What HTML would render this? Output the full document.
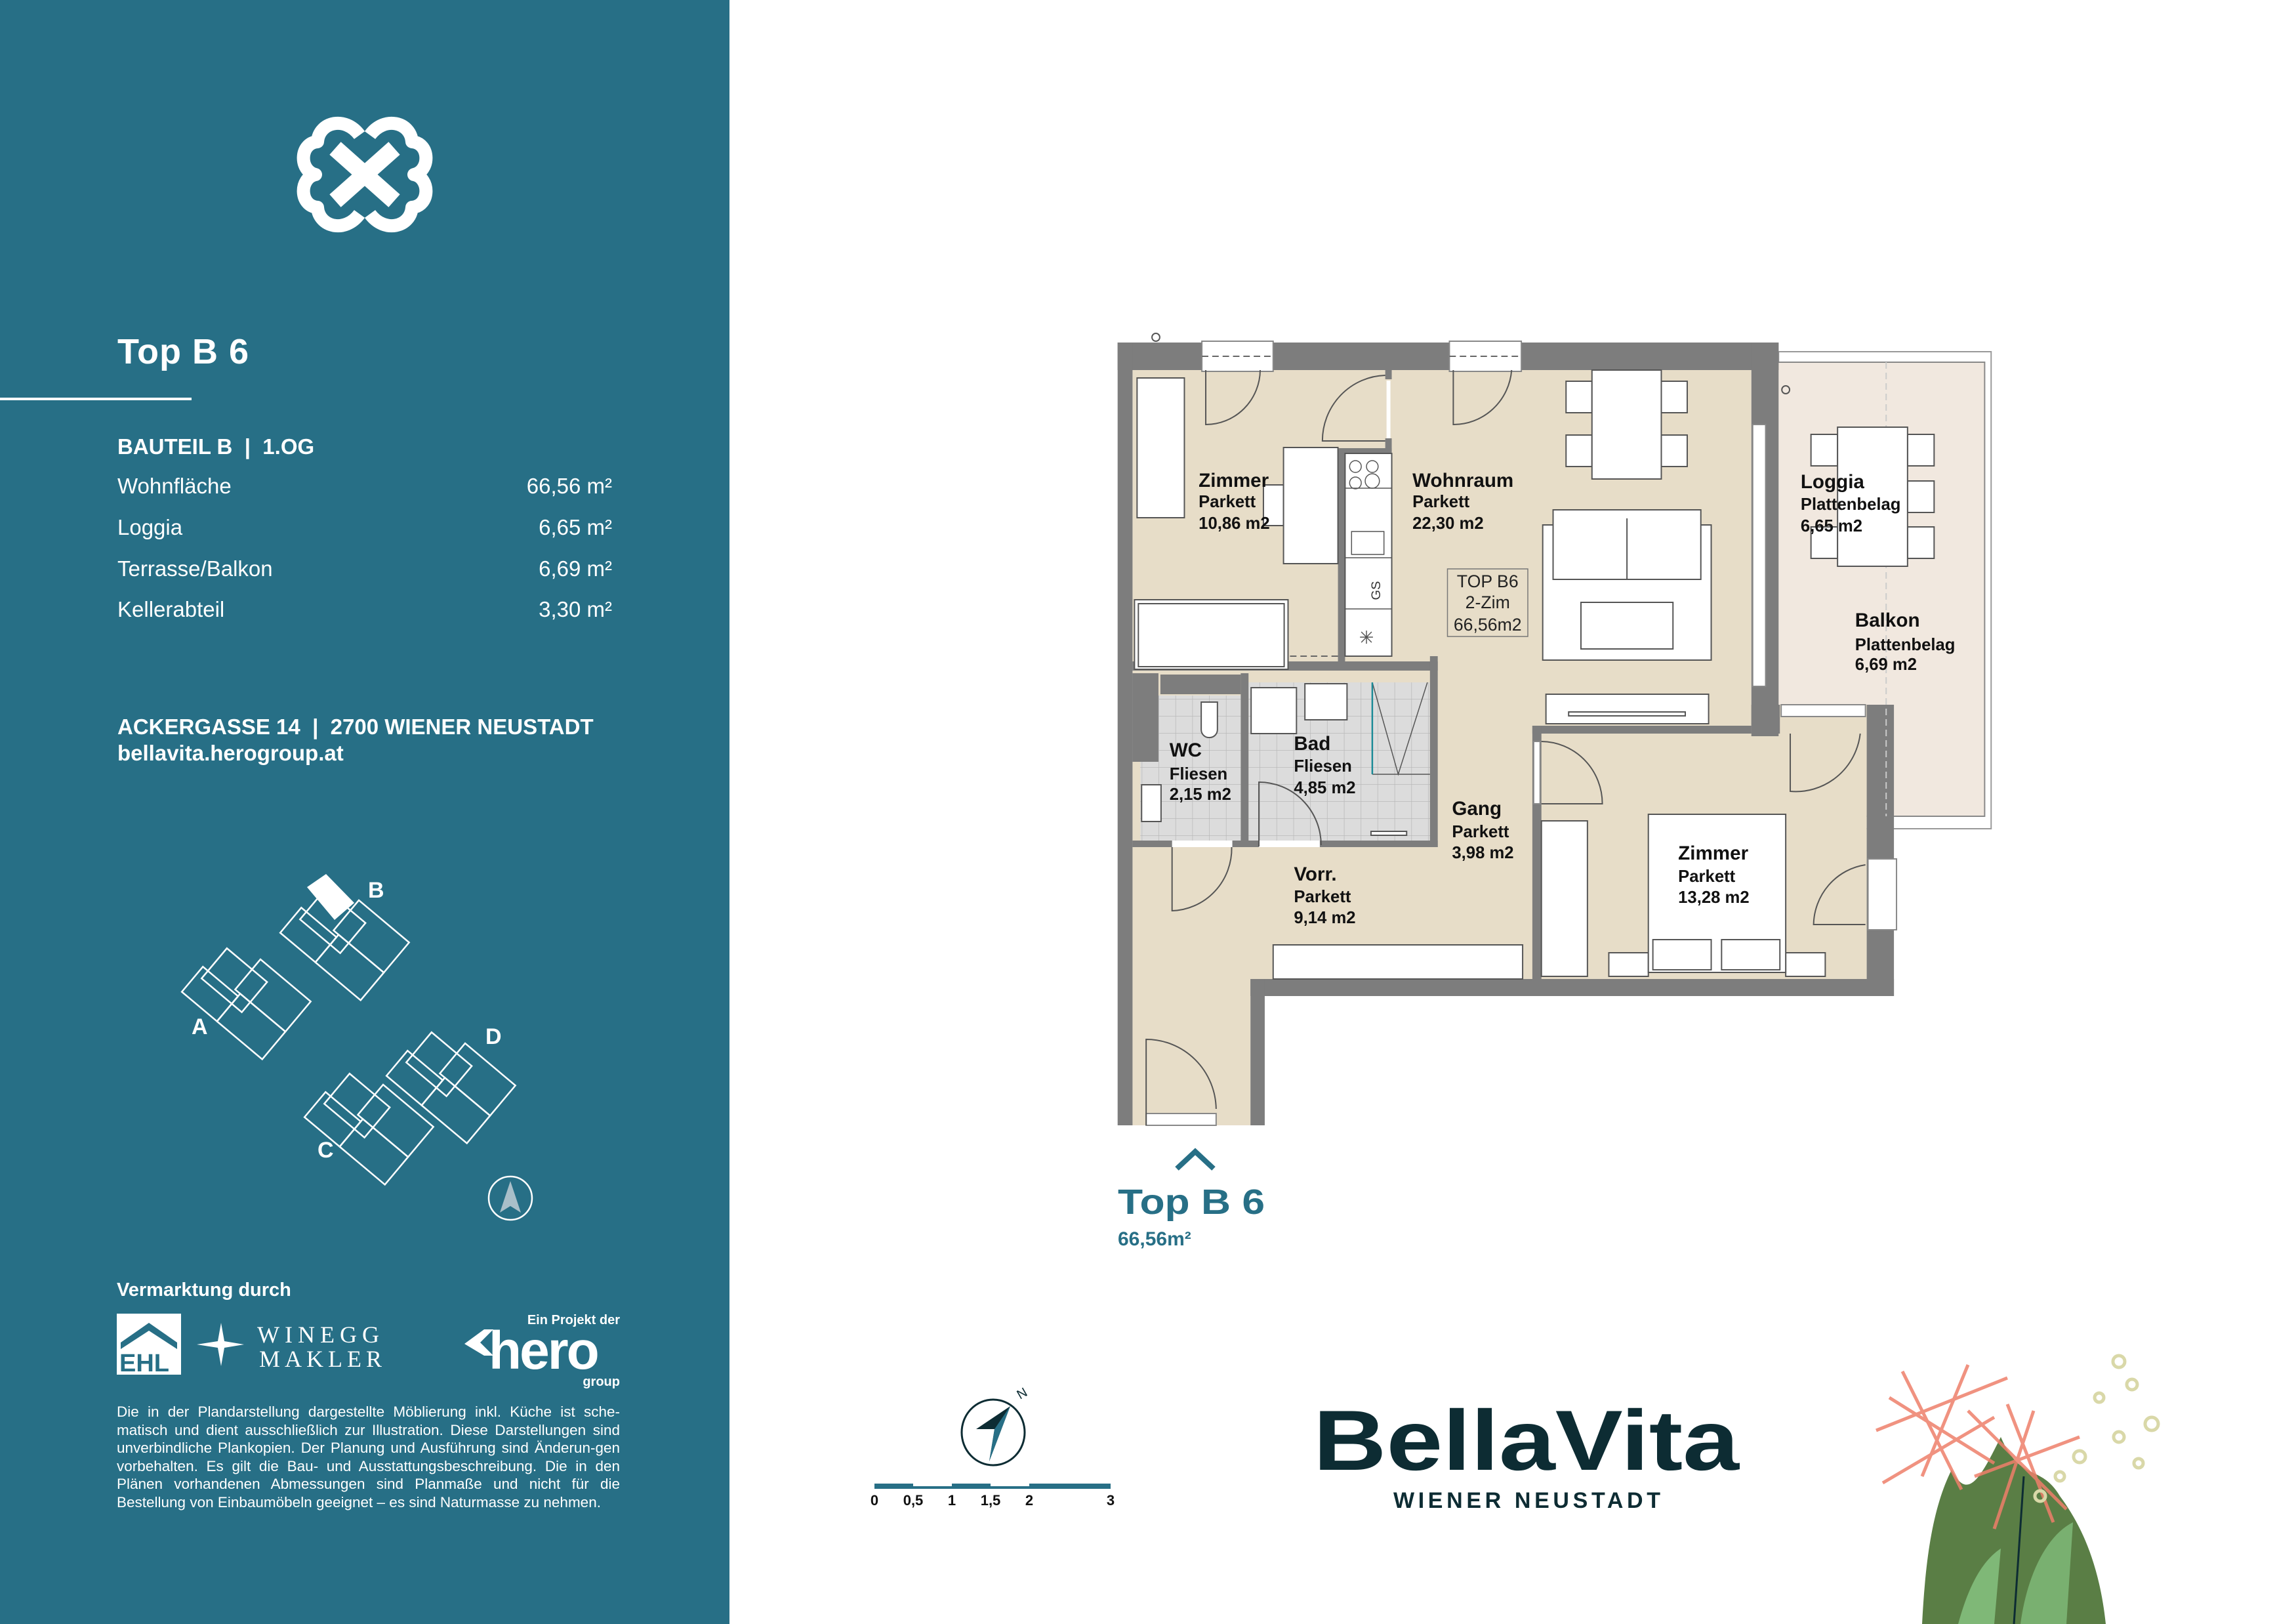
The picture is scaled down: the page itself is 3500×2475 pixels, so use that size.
<!DOCTYPE html>
<html><head><meta charset="utf-8"><style>
html,body{margin:0;padding:0}
body{width:3500px;height:2475px;position:relative;background:#fff;overflow:hidden;font-family:"Liberation Sans",sans-serif}
.a{position:absolute;white-space:nowrap}
.w{color:#fff}
</style></head><body>
<div class="a" style="left:0;top:0;width:1112px;height:2475px;background:#276f86"></div>

<svg class="a" style="left:0;top:0" width="3500" height="2475" viewBox="0 0 3500 2475">
<defs>
<pattern id="tile" x="0" y="0" width="26" height="26" patternUnits="userSpaceOnUse"><rect width="26" height="26" fill="#dcdcdc"/><path d="M26 0V26H0" fill="none" stroke="#b9b9b9" stroke-width="1.5"/></pattern>
</defs>
<!-- logo clover -->
<g transform="translate(556,266)" fill="none" stroke="#fff" stroke-width="20" stroke-linejoin="round">
<path d="M-8,-60 C-30,-90 -70,-80 -72,-50 C-100,-48 -100,-5 -75,0 C-100,5 -100,48 -72,50 C-70,80 -30,90 -8,60 M8,-60 C30,-90 70,-80 72,-50 C100,-48 100,-5 75,0 C100,5 100,48 72,50 C70,80 30,90 8,60"/>
<path d="M-45,-40 L45,40 M45,-40 L-45,40" stroke-width="26"/>
</g>
<line x1="0" y1="608" x2="292" y2="608" stroke="#fff" stroke-width="4"/>
<!-- site map -->
<g fill="none" stroke="#fff" stroke-width="2.5">
<g transform="translate(377,1517) rotate(40)"><rect x="-70" y="-35" width="80" height="60"/><rect x="-20" y="-55" width="100" height="60"/><rect x="-10" y="5" width="90" height="55"/><rect x="-80" y="10" width="70" height="50"/></g>
<g transform="translate(527,1427) rotate(40)"><rect x="-70" y="-35" width="80" height="60"/><rect x="-20" y="-55" width="100" height="60"/><rect x="-10" y="5" width="90" height="55"/><rect x="-80" y="10" width="70" height="50"/></g>
<g transform="translate(564,1708) rotate(40)"><rect x="-70" y="-35" width="80" height="60"/><rect x="-20" y="-55" width="100" height="60"/><rect x="-10" y="5" width="90" height="55"/><rect x="-80" y="10" width="70" height="50"/></g>
<g transform="translate(689,1645) rotate(40)"><rect x="-70" y="-35" width="80" height="60"/><rect x="-20" y="-55" width="100" height="60"/><rect x="-10" y="5" width="90" height="55"/><rect x="-80" y="10" width="70" height="50"/></g>
<circle cx="778" cy="1826" r="33"/>
</g>
<polygon points="468,1352 497,1332 540,1376 510,1402" fill="#fff"/>
<polygon points="778,1800 762,1848 778,1838 794,1848" fill="#a9bfc9"/>
<g fill="#fff" font-family="Liberation Sans" font-weight="bold" font-size="34"><text x="561" y="1368">B</text><text x="292" y="1576">A</text><text x="484" y="1764">C</text><text x="740" y="1591">D</text></g>
<!-- EHL -->
<rect x="178" y="2002" width="98" height="93" fill="#fff"/>
<polygon points="184,2046 227,2016 270,2046 270,2056 227,2028 184,2056" fill="#276f86"/>
<text x="182" y="2090" font-size="38" font-weight="bold" fill="#276f86" font-family="Liberation Sans">EHL</text>
<polygon points="337,2016 342,2044 372,2049 342,2054 337,2082 332,2054 300,2049 332,2044" fill="#fff"/>
<text x="392" y="2046" font-family="Liberation Serif" font-size="36" fill="#fff" letter-spacing="8">WINEGG</text>
<text x="395" y="2083" font-family="Liberation Serif" font-size="36" fill="#fff" letter-spacing="7">MAKLER</text>
<text x="945" y="2018" text-anchor="end" font-size="20" font-weight="bold" fill="#fff">Ein Projekt der</text>
<polygon points="708,2048 738,2026 752,2026 732,2046 752,2066 738,2066" fill="#fff"/>
<text x="745" y="2086" font-size="82" font-weight="bold" fill="#fff" letter-spacing="-3">hero</text>
<text x="945" y="2112" text-anchor="end" font-size="20" font-weight="bold" fill="#fff">group</text>

<!-- ===== PLAN ===== -->
<g transform="translate(1680,0) scale(0.9878,1) translate(-1680,0)">
<!-- loggia -->
<rect x="2724" y="536" width="328" height="727" fill="none" stroke="#999" stroke-width="2"/>
<rect x="2706" y="552" width="336" height="692" fill="#f1e8df" stroke="#888" stroke-width="2"/>
<!-- interior -->
<polygon points="1727,564 2682,564 2682,1074 2860,1074 2860,1492 1909,1492 1909,1715 1727,1715" fill="#e7ddc8"/>
<!-- tiles -->
<rect x="1739" y="1060" width="155" height="221" fill="url(#tile)"/>
<rect x="1906" y="1040" width="280" height="241" fill="url(#tile)"/>
<!-- walls -->
<g fill="#7d7d7d">
<rect x="1704" y="522" width="1020" height="42"/>
<rect x="1704" y="522" width="23" height="1193"/>
<rect x="2682" y="522" width="42" height="600"/>
<rect x="2682" y="1074" width="44" height="44"/>
<rect x="2344" y="1106" width="338" height="12"/>
<rect x="2860" y="1074" width="42" height="444"/>
<rect x="1909" y="1492" width="993" height="26"/>
<rect x="1909" y="1492" width="22" height="223"/>
<rect x="2344" y="1106" width="14" height="386"/>
<rect x="2044" y="683" width="11" height="339"/>
<rect x="2044" y="683" width="83" height="8"/>
<rect x="2117" y="564" width="10" height="14"/>
<rect x="2117" y="668" width="10" height="20"/>
<rect x="1727" y="1008" width="471" height="14"/>
<rect x="2186" y="1000" width="12" height="291"/>
<rect x="1727" y="1281" width="471" height="10"/>
<rect x="1894" y="1026" width="12" height="255"/>
<rect x="1727" y="1026" width="40" height="135"/>
<rect x="1770" y="1028" width="124" height="30"/>
</g>
<!-- openings -->
<g fill="#fff" stroke="#888" stroke-width="2">
<rect x="1834" y="520" width="110" height="46"/>
<rect x="2216" y="520" width="111" height="46"/>
<rect x="2684" y="647" width="20" height="399"/>
<rect x="2728" y="1074" width="130" height="18"/>
<rect x="2862" y="1309" width="44" height="108"/>
<rect x="2346" y="1130" width="10" height="95"/>
<rect x="1788" y="1281" width="93" height="10" stroke="none"/>
<rect x="1922" y="1281" width="94" height="10" stroke="none"/>
<rect x="1748" y="1697" width="108" height="18"/>
<rect x="2119" y="580" width="6" height="88" stroke="none"/>
</g>
<g stroke="#666" stroke-width="2" stroke-dasharray="10,6" fill="none">
<line x1="1834" y1="543" x2="1944" y2="543"/><line x1="2216" y1="543" x2="2327" y2="543"/>
<line x1="1730" y1="1000" x2="2044" y2="1000"/>
<line x1="2890" y1="552" x2="2890" y2="1244" stroke="#ccc"/>
</g>
<!-- doors -->
<g fill="none" stroke="#555" stroke-width="2">
<path d="M1840,564 V647 A84,84 0 0 0 1924,564"/>
<path d="M2117,672 H2020 A100,100 0 0 1 2117,572" />
<path d="M2222,564 V647 A90,90 0 0 0 2312,564"/>
<path d="M1788,1291 V1388 A95,95 0 0 0 1880,1291"/>
<path d="M1922,1290 V1192 A96,96 0 0 1 2018,1288"/>
<path d="M2358,1225 H2452 A95,95 0 0 0 2358,1130"/>
<path d="M2742,1118 V1206 A100,100 0 0 0 2850,1118"/>
<path d="M2858,1409 H2778 A94,94 0 0 1 2858,1318"/>
<path d="M1748,1715 V1584 A108,108 0 0 1 1856,1690"/>
</g>
<!-- furniture -->
<g fill="#fff" stroke="#555" stroke-width="2">
<rect x="1734" y="576" width="73" height="213"/>
<rect x="1929" y="739" width="31" height="62"/>
<rect x="1960" y="682" width="84" height="177"/>
<rect x="1730" y="914" width="237" height="106"/>
<rect x="1736" y="920" width="225" height="96" fill="none"/>
<rect x="2055" y="691" width="72" height="309"/>
<rect x="2396" y="581" width="40" height="48"/><rect x="2396" y="663" width="40" height="48"/>
<rect x="2543" y="581" width="40" height="48"/><rect x="2543" y="663" width="40" height="48"/>
<rect x="2436" y="564" width="107" height="166"/>
<rect x="2360" y="800" width="260" height="206"/>
<rect x="2376" y="777" width="228" height="106"/>
<line x1="2490" y1="790" x2="2490" y2="883"/>
<rect x="2419" y="918" width="142" height="71"/>
<rect x="2365" y="1058" width="251" height="45"/>
<rect x="2400" y="1085" width="180" height="6"/>
<rect x="2774" y="662" width="41" height="48"/><rect x="2774" y="803" width="41" height="48"/>
<rect x="2923" y="662" width="41" height="48"/><rect x="2923" y="733" width="41" height="48"/><rect x="2923" y="803" width="41" height="48"/>
<rect x="2815" y="651" width="108" height="212"/>
<rect x="2358" y="1251" width="71" height="237"/>
<rect x="2462" y="1452" width="61" height="36"/><rect x="2735" y="1452" width="61" height="36"/>
<rect x="2523" y="1241" width="212" height="241"/>
<rect x="2530" y="1432" width="90" height="46"/><rect x="2636" y="1432" width="90" height="46"/>
<rect x="1910" y="1048" width="70" height="70"/>
<rect x="1993" y="1042" width="65" height="55"/>
<path d="M1833,1070 H1858 V1112 A12,12 0 0 1 1846,1124 A12,12 0 0 1 1833,1112 Z"/>
<rect x="1741" y="1196" width="30" height="56"/>
<rect x="1944" y="1440" width="385" height="52"/>
<rect x="2095" y="1267" width="55" height="6"/>
</g>
<g fill="none" stroke="#555" stroke-width="1.5">
<line x1="2055" y1="744" x2="2127" y2="744"/><line x1="2055" y1="850" x2="2127" y2="850"/><line x1="2055" y1="928" x2="2127" y2="928"/>
<circle cx="2071" cy="711" r="9"/><circle cx="2097" cy="711" r="9"/><circle cx="2071" cy="736" r="9"/><circle cx="2097" cy="733" r="11"/>
<rect x="2065" y="810" width="50" height="35"/>
<path d="M2080,979 l16,-16 M2080,963 l16,16 M2088,961 v20 M2078,971 h20"/>
<path d="M2097,1040 L2137,1180 L2182,1040 M2097,1180 H2186"/>
<rect x="2213" y="867" width="124" height="103" stroke="#777"/>
</g>
<line x1="2097" y1="1040" x2="2097" y2="1180" stroke="#1b8a96" stroke-width="2.5"/>
<text x="2097" y="912" font-size="20" fill="#333" transform="rotate(-90 2097 900)" text-anchor="middle">GS</text>
<!-- plan labels -->
<g font-family="Liberation Sans" fill="#111" font-weight="bold">
<g font-size="30"><text x="1829" y="742">Zimmer</text><text x="2159" y="742">Wohnraum</text><text x="2758" y="744">Loggia</text><text x="2842" y="955">Balkon</text><text x="1784" y="1153">WC</text><text x="1976" y="1143">Bad</text><text x="2220" y="1242">Gang</text><text x="1976" y="1342">Vorr.</text><text x="2569" y="1310">Zimmer</text></g>
<g font-size="26"><text x="1829" y="773">Parkett</text><text x="1829" y="806">10,86 m2</text>
<text x="2159" y="773">Parkett</text><text x="2159" y="806">22,30 m2</text>
<text x="2758" y="777">Plattenbelag</text><text x="2758" y="810">6,65 m2</text>
<text x="2842" y="991">Plattenbelag</text><text x="2842" y="1021">6,69 m2</text>
<text x="1784" y="1188">Fliesen</text><text x="1784" y="1219">2,15 m2</text>
<text x="1976" y="1176">Fliesen</text><text x="1976" y="1209">4,85 m2</text>
<text x="2220" y="1276">Parkett</text><text x="2220" y="1308">3,98 m2</text>
<text x="1976" y="1375">Parkett</text><text x="1976" y="1407">9,14 m2</text>
<text x="2569" y="1344">Parkett</text><text x="2569" y="1376">13,28 m2</text></g>
</g>
<g font-size="27" fill="#222" text-anchor="middle"><text x="2275" y="895">TOP B6</text><text x="2275" y="927">2-Zim</text><text x="2275" y="961">66,56m2</text></g>
<circle cx="1763" cy="514" r="6" fill="none" stroke="#555" stroke-width="2"/>
<circle cx="2735" cy="594" r="6" fill="none" stroke="#555" stroke-width="2"/>
</g>

<!-- top b6 marker -->
<polyline points="1794,1781 1822,1755 1850,1781" fill="none" stroke="#276f86" stroke-width="8"/>
<text x="1704" y="1850" font-size="54" font-weight="bold" fill="#276f86" textLength="224" lengthAdjust="spacingAndGlyphs">Top B 6</text>
<text x="1704" y="1898" font-size="30" font-weight="bold" fill="#276f86">66,56m²</text>

<!-- compass + scale -->
<ellipse cx="1514" cy="2183" rx="48" ry="50" fill="none" stroke="#0d2c33" stroke-width="3"/>
<polygon points="1540,2143 1488,2178 1516,2178 1508,2227" fill="#0d2c33"/>
<polygon points="1540,2143 1516,2178 1508,2227" fill="#276f86"/>
<text x="1555" y="2133" font-size="20" fill="#0d2c33" transform="rotate(-30 1555 2133)">N</text>
<g fill="#276f86"><rect x="1333" y="2261" width="59" height="8"/><rect x="1392" y="2265" width="59" height="4"/><rect x="1451" y="2261" width="59" height="8"/><rect x="1510" y="2265" width="59" height="4"/><rect x="1569" y="2261" width="124" height="8"/></g>
<g font-size="22" font-weight="bold" fill="#111" text-anchor="middle"><text x="1333" y="2294">0</text><text x="1392" y="2294">0,5</text><text x="1451" y="2294">1</text><text x="1510" y="2294">1,5</text><text x="1569" y="2294">2</text><text x="1693" y="2294">3</text></g>

<!-- BellaVita -->
<text x="2002" y="2240" font-size="130" font-weight="bold" fill="#0d2c33" textLength="649" lengthAdjust="spacingAndGlyphs">BellaVita</text>
<text x="2124" y="2298" font-size="34" font-weight="bold" fill="#0d2c33" textLength="407" lengthAdjust="spacing">WIENER NEUSTADT</text>

<!-- plant -->
<g>
<path d="M2930,2475 C2935,2380 2945,2300 2975,2240 C3000,2290 3020,2250 3050,2190 C3080,2260 3110,2230 3140,2280 C3170,2320 3200,2380 3210,2475 Z" fill="#5a7e45"/>
<path d="M2950,2475 C2960,2420 2940,2360 2960,2330 L3000,2475Z" fill="#5a7e45"/>
<path d="M3080,2475 C3090,2400 3120,2340 3160,2320 L3150,2475Z" fill="#79b070"/>
<path d="M2985,2475 C3000,2420 3020,2380 3050,2360 L3040,2475Z" fill="#7fb877"/>
<line x1="3070" y1="2475" x2="3085" y2="2250" stroke="#0d2c33" stroke-width="3"/>
<g stroke="#ee7f6a" stroke-width="5" opacity="0.85">
<line x1="2860" y1="2180" x2="3060" y2="2100"/><line x1="2880" y1="2130" x2="3040" y2="2230"/><line x1="2900" y1="2090" x2="2990" y2="2270"/><line x1="3000" y1="2080" x2="2930" y2="2250"/><line x1="2870" y1="2260" x2="3040" y2="2160"/>
<line x1="3000" y1="2150" x2="3150" y2="2300"/><line x1="3100" y1="2150" x2="3040" y2="2330"/><line x1="3010" y1="2250" x2="3170" y2="2190"/><line x1="3060" y1="2140" x2="3130" y2="2320"/>
</g>
<g fill="none" stroke="#d9d8a8" stroke-width="5"><circle cx="3230" cy="2075" r="9"/><circle cx="3250" cy="2110" r="8"/><circle cx="3200" cy="2130" r="7"/><circle cx="3280" cy="2170" r="10"/><circle cx="3230" cy="2190" r="8"/><circle cx="3170" cy="2220" r="9"/><circle cx="3140" cy="2250" r="7"/><circle cx="3260" cy="2230" r="7"/><circle cx="3110" cy="2280" r="8"/></g>
</g>
</svg>

<!-- left panel text -->
<div class="a w" style="left:179px;top:505px;font-size:54px;font-weight:bold;letter-spacing:1px">Top B 6</div>
<div class="a w" style="left:179px;top:662px;font-size:33px;font-weight:bold">BAUTEIL B &nbsp;|&nbsp; 1.OG</div>
<div class="a w" style="left:179px;top:722px;font-size:33px">Wohnfläche</div>
<div class="a w" style="left:179px;top:785px;font-size:33px">Loggia</div>
<div class="a w" style="left:179px;top:848px;font-size:33px">Terrasse/Balkon</div>
<div class="a w" style="left:179px;top:910px;font-size:33px">Kellerabteil</div>
<div class="a w" style="right:2567px;top:722px;font-size:33px;text-align:right">66,56 m²</div>
<div class="a w" style="right:2567px;top:785px;font-size:33px;text-align:right">6,65 m²</div>
<div class="a w" style="right:2567px;top:848px;font-size:33px;text-align:right">6,69 m²</div>
<div class="a w" style="right:2567px;top:910px;font-size:33px;text-align:right">3,30 m²</div>
<div class="a w" style="left:179px;top:1089px;font-size:33px;font-weight:bold">ACKERGASSE 14 &nbsp;|&nbsp; 2700 WIENER NEUSTADT</div>
<div class="a w" style="left:179px;top:1129px;font-size:33px;font-weight:bold">bellavita.herogroup.at</div>
<div class="a w" style="left:178px;top:1950px;font-size:29px;font-weight:bold">Vermarktung durch</div>
<div class="a w" style="left:178px;top:2138px;width:767px;font-size:22.5px;line-height:27.5px;text-align:justify;white-space:normal">Die in der Plandarstellung dargestellte Möblierung inkl. Küche ist sche-matisch und dient ausschließlich zur Illustration. Diese Darstellungen sind unverbindliche Plankopien. Der Planung und Ausführung sind Änderun-gen vorbehalten. Es gilt die Bau- und Ausstattungsbeschreibung. Die in den Plänen vorhandenen Abmessungen sind Planmaße und nicht für die Bestellung von Einbaumöbeln geeignet – es sind Naturmasse zu nehmen.</div>
</body></html>
